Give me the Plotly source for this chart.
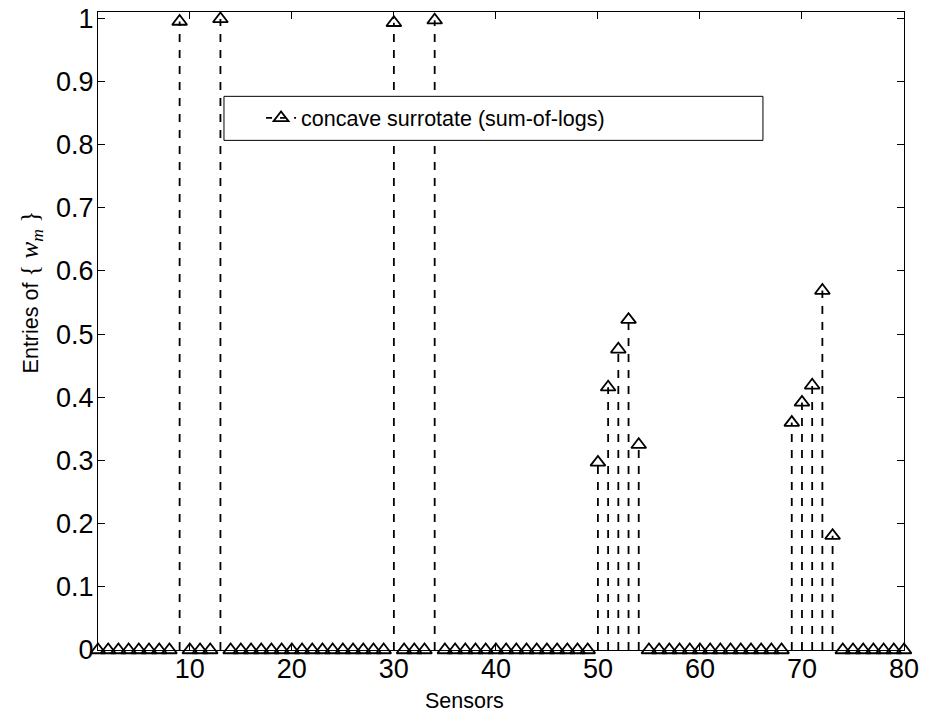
import plotly.graph_objects as go

# Sensor indices and the selection weights w_m found by the sum-of-logs surrogate
sensors = list(range(1, 81))
weights = [
    0, 0, 0, 0, 0, 0, 0, 0, 0.995, 0,            # 1-10
    0, 0, 0.999, 0, 0, 0, 0, 0, 0, 0,            # 11-20
    0, 0, 0, 0, 0, 0, 0, 0, 0, 0.993,            # 21-30
    0, 0, 0, 0.997, 0, 0, 0, 0, 0, 0,            # 31-40
    0, 0, 0, 0, 0, 0, 0, 0, 0, 0.297,            # 41-50
    0.416, 0.476, 0.523, 0.325, 0, 0, 0, 0, 0, 0,  # 51-60
    0, 0, 0, 0, 0, 0, 0, 0, 0.360, 0.392,        # 61-70
    0.419, 0.569, 0.181, 0, 0, 0, 0, 0, 0, 0,    # 71-80
]

x_ticks = [10, 20, 30, 40, 50, 60, 70, 80]
y_ticks = [0, 0.1, 0.2, 0.3, 0.4, 0.5, 0.6, 0.7, 0.8, 0.9, 1]
y_tick_text = ["0", "0.1", "0.2", "0.3", "0.4", "0.5", "0.6", "0.7", "0.8", "0.9", "1"]

series_name = "concave surrotate (sum-of-logs)"
x_title = "Sensors"
y_title = ("Entries of "
           "<span style='font-family:Liberation Serif;font-size:25px'>"
           "{ <i>w</i><sub><i>m</i></sub> }</span>")

FONT = "Liberation Sans, Arial, Helvetica, sans-serif"
DASH = "8px,8px"

# Stems: dashed segments from the baseline up to each nonzero weight
stem_x, stem_y = [], []
for s, w in zip(sensors, weights):
    if w > 0:
        stem_x += [s, s, None]
        stem_y += [0, w, None]

fig = go.Figure()

fig.add_trace(go.Scatter(
    x=stem_x, y=stem_y, mode="lines",
    line=dict(color="black", width=1.8, dash=DASH),
    showlegend=False, hoverinfo="skip",
))

fig.add_trace(go.Scatter(
    x=sensors, y=weights, mode="markers",
    marker=dict(symbol="triangle-up-open", size=13, color="black",
                line=dict(color="black", width=1.8)),
    cliponaxis=False, showlegend=False,
))

# Legend entry (dashed line with triangle)
fig.add_trace(go.Scatter(
    x=[None], y=[None], mode="lines+markers", name=series_name,
    line=dict(color="black", width=1.8, dash="6px,8px"),
    marker=dict(symbol="triangle-up-open", size=13, color="black",
                line=dict(color="black", width=1.8)),
))

axis_common = dict(
    showline=True, linecolor="black", linewidth=1,
    mirror="ticks", ticks="inside", ticklen=7, tickwidth=1, tickcolor="black",
    showgrid=False, zeroline=False, automargin=False,
    tickfont=dict(family=FONT, size=27, color="black"),
)

fig.update_layout(
    width=925, height=712,
    margin=dict(l=98, r=21, t=12, b=62),
    paper_bgcolor="white", plot_bgcolor="white",
    font=dict(family=FONT, color="black"),
    xaxis=dict(range=[1, 80], tickvals=x_ticks, ticklabelstandoff=-5, **axis_common),
    yaxis=dict(range=[0, 1.01], tickvals=y_ticks, ticktext=y_tick_text,
               ticklabelstandoff=-2, **axis_common),
    showlegend=True,
    legend=dict(
        x=0.2023, y=0.834, xanchor="left", yanchor="middle",
        bgcolor="rgba(0,0,0,0)", borderwidth=0,
        font=dict(family=FONT, size=21.5, color="black"),
    ),
    shapes=[dict(
        type="rect", xref="paper", yref="paper",
        x0=0.1563, x1=0.825, y0=0.7988, y1=0.8678,
        line=dict(color="black", width=1), fillcolor="white", layer="above",
    )],
    annotations=[
        dict(text=x_title, xref="paper", yref="paper", x=0.4553, y=-0.0807,
             xanchor="center", yanchor="middle", showarrow=False,
             font=dict(family=FONT, size=21.5, color="black")),
        dict(text=y_title, xref="paper", yref="paper", x=-0.0831, y=0.5605,
             xanchor="center", yanchor="middle", textangle=-90, showarrow=False,
             font=dict(family=FONT, size=21.5, color="black")),
    ],
)

fig.write_html("out.html")
